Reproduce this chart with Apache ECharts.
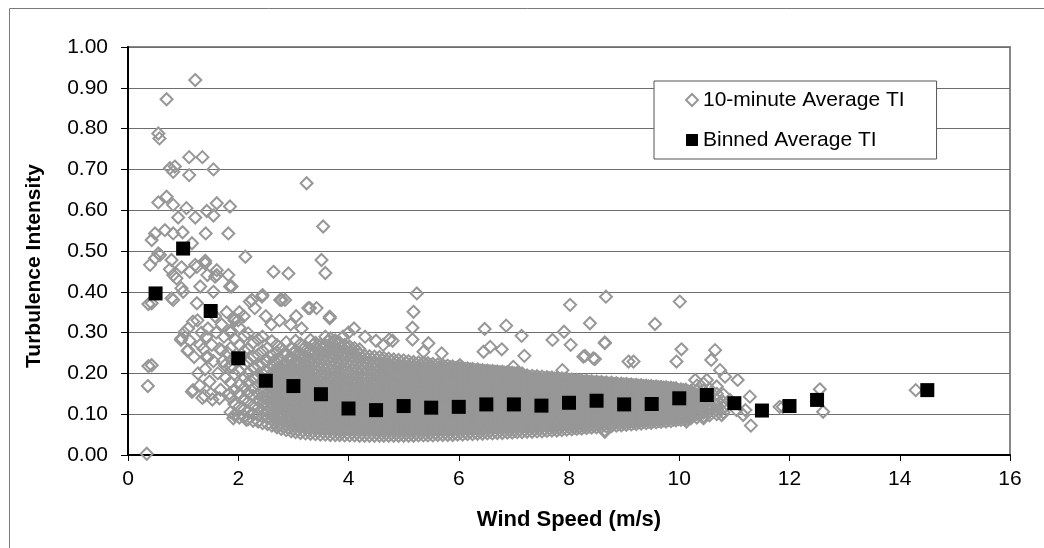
<!DOCTYPE html>
<html><head><meta charset="utf-8">
<script src="https://cdn.jsdelivr.net/npm/echarts@6/dist/echarts.min.js"></script>
<style>html,body{margin:0;padding:0;background:#fff}#c{width:1044px;height:548px}</style>
</head><body><div id="c"></div>
<script>
const xTicks = [0, 2, 4, 6, 8, 10, 12, 14, 16];
const yTicks = [0.00, 0.10, 0.20, 0.30, 0.40, 0.50, 0.60, 0.70, 0.80, 0.90, 1.00];

const binWind = [0.5, 1.0, 1.5, 2.0, 2.5, 3.0, 3.5, 4.0, 4.5, 5.0, 5.5, 6.0, 6.5, 7.0, 7.5, 8.0, 8.5, 9.0, 9.5, 10.0, 10.5, 11.0, 11.5, 12.0, 12.5, 14.5];
const binTI = [0.396, 0.506, 0.353, 0.237, 0.182, 0.169, 0.149, 0.114, 0.110, 0.120, 0.116, 0.118, 0.124, 0.124, 0.121, 0.128, 0.133, 0.124, 0.125, 0.139, 0.147, 0.127, 0.109, 0.120, 0.135, 0.159];

// sparse 10-minute points [wind speed, TI]
const sparsePts = [
[0.34,0.003],[0.36,0.169],[0.37,0.218],[0.37,0.37],[0.40,0.466],[0.43,0.527],[0.43,0.372],[0.43,0.22],[0.49,0.543],[0.49,0.482],[0.55,0.494],[0.55,0.619],[0.55,0.788],[0.57,0.776],[0.58,0.49],
[0.67,0.551],[0.70,0.633],[0.70,0.872],[0.76,0.703],[0.76,0.455],[0.79,0.478],[0.79,0.384],[0.82,0.694],[0.82,0.613],[0.82,0.543],[0.82,0.441],[0.82,0.38],[0.85,0.707],[0.88,0.433],[0.91,0.582],
[0.96,0.282],[0.97,0.409],[0.97,0.46],[0.97,0.286],[0.99,0.546],[1.00,0.40],[1.02,0.30],[1.06,0.605],[1.08,0.255],[1.09,0.31],[1.09,0.257],[1.11,0.73],[1.11,0.686],[1.12,0.449],[1.12,0.28],
[1.16,0.519],[1.16,0.155],[1.18,0.327],[1.18,0.159],[1.20,0.24],[1.22,0.919],[1.22,0.582],[1.22,0.466],[1.25,0.461],[1.25,0.372],[1.26,0.33],[1.27,0.20],[1.30,0.17],[1.31,0.413],[1.31,0.27],
[1.33,0.30],[1.35,0.73],[1.35,0.14],[1.37,0.26],[1.39,0.145],[1.40,0.476],[1.40,0.47],[1.40,0.21],[1.41,0.543],[1.42,0.29],[1.42,0.24],[1.43,0.598],[1.44,0.441],[1.45,0.31],[1.45,0.24],
[1.48,0.18],[1.50,0.15],[1.52,0.27],[1.53,0.136],[1.55,0.70],[1.55,0.587],[1.55,0.40],[1.55,0.23],[1.58,0.437],[1.58,0.34],[1.60,0.30],[1.61,0.617],[1.61,0.453],[1.61,0.441],[1.63,0.20],
[1.66,0.26],[1.66,0.139],[1.68,0.16],[1.70,0.32],[1.70,0.257],[1.72,0.23],[1.74,0.29],[1.76,0.22],[1.77,0.19],[1.79,0.35],[1.81,0.25],[1.82,0.543],[1.82,0.441],[1.84,0.15],[1.85,0.609],
[1.85,0.413],[1.86,0.30],[1.88,0.413],[1.88,0.22],[1.91,0.09],[1.92,0.335],[2.00,0.33],[2.02,0.35],[2.10,0.34],[2.13,0.486],[2.15,0.086],[2.21,0.376],[2.25,0.38],[2.30,0.36],[2.43,0.388],
[2.44,0.392],[2.50,0.34],[2.60,0.32],[2.64,0.449],[2.75,0.33],[2.76,0.38],[2.79,0.38],[2.85,0.38],[2.91,0.445],[2.95,0.32],[3.05,0.34],[3.15,0.31],[3.24,0.666],[3.27,0.36],[3.30,0.36],
[3.42,0.36],[3.51,0.478],[3.54,0.56],[3.58,0.446],[3.66,0.335],[3.66,0.339],[3.90,0.29],[4.00,0.30],[4.10,0.31],[4.30,0.29],[4.50,0.28],[4.63,0.27],[4.74,0.283],[4.80,0.28],
[5.16,0.312],[5.16,0.283],[5.18,0.351],[5.24,0.396],[5.36,0.253],[5.45,0.274],[5.69,0.249],[6.02,0.22],[6.45,0.253],[6.47,0.309],[6.57,0.265],[6.78,0.259],[6.86,0.317],[6.99,0.216],
[7.14,0.292],[7.19,0.243],[7.70,0.282],[7.88,0.208],[7.91,0.302],[8.02,0.368],[8.03,0.27],[8.26,0.241],[8.29,0.243],[8.38,0.323],[8.44,0.237],[8.47,0.235],[8.65,0.276],[8.65,0.274],
[8.65,0.057],[8.65,0.061],[8.67,0.388],[9.08,0.229],[9.17,0.229],[9.56,0.321],[9.95,0.229],[10.01,0.376],[10.04,0.259],[10.13,0.082],[10.29,0.184],[10.44,0.09],[10.50,0.184],[10.58,0.233],
[10.65,0.257],[10.74,0.208],[10.77,0.098],[10.83,0.192],[10.92,0.135],[11.04,0.11],[11.06,0.184],[11.16,0.098],[11.20,0.11],[11.28,0.143],[11.30,0.072],[11.82,0.118],[11.88,0.118],
[12.55,0.161],[12.61,0.106],[14.29,0.159]
];

// dense part of the 10-minute cloud: [wind speed, [TI values at that speed]]
const cloudCols = [
[1.86,[.105,.140,.178,.215,.262,.305]],
[1.93,[.098,.125,.160,.198,.240,.285,.330]],
[2.02,[.092,.118,.150,.172,.205,.236,.270,.312]],
[2.11,[.095,.112,.138,.165,.190,.222,.255,.292]],
[2.18,[.088,.106,.130,.152,.178,.201,.228,.260,.298]],
[2.27,[.084,.100,.121,.145,.163,.188,.214,.241,.275]],
[2.36,[.082,.097,.115,.134,.150,.171,.193,.219,.246,.283]],
[2.44,[.078,.093,.108,.126,.143,.160,.178,.199,.224,.255,.290]],
[2.53,[.076,.090,.104,.119,.135,.151,.168,.186,.205,.231,.262]],
[2.61,[.072,.086,.101,.115,.129,.146,.162,.180,.197,.218,.244,.279]],
[2.70,[.068,.082,.096,.110,.124,.139,.153,.170,.186,.203,.224,.252,.270]],
[2.78,[.064,.078,.092,.105,.119,.133,.148,.163,.178,.194,.212,.233,.262]],
[2.87,[.061,.074,.088,.101,.115,.129,.143,.157,.172,.188,.205,.224,.248,.276]],
[2.96,[.058,.071,.084,.097,.110,.124,.138,.152,.167,.182,.198,.216,.237,.262]],
[3.04,[.056,.069,.082,.095,.108,.121,.135,.149,.163,.178,.194,.211,.230,.256,.280]],
[3.13,[.054,.067,.080,.093,.106,.119,.133,.147,.161,.176,.191,.207,.225,.247,.272]],
[3.22,[.053,.066,.079,.092,.104,.117,.131,.144,.158,.172,.187,.203,.220,.240,.265]],
[3.31,[.052,.064,.077,.090,.102,.115,.128,.141,.155,.169,.183,.198,.215,.234,.258,.282]],
[3.40,[.051,.063,.076,.089,.101,.114,.127,.140,.154,.168,.182,.197,.213,.231,.252,.275]],
[3.49,[.050,.062,.075,.088,.100,.113,.126,.139,.152,.166,.180,.195,.211,.228,.248,.270]],
[3.58,[.050,.062,.074,.087,.099,.112,.125,.138,.151,.165,.179,.194,.209,.226,.245,.268,.290]],
[3.67,[.049,.061,.074,.086,.099,.111,.124,.137,.150,.164,.178,.192,.207,.224,.242,.263,.286]],
[3.76,[.049,.061,.073,.086,.098,.111,.123,.136,.149,.163,.177,.191,.206,.222,.240,.260,.281]],
[3.84,[.049,.061,.073,.085,.098,.110,.123,.136,.149,.162,.176,.190,.205,.221,.238,.257,.275]],
[3.93,[.048,.060,.072,.085,.097,.110,.122,.135,.148,.161,.175,.189,.204,.219,.236,.254,.270]],
[4.02,[.048,.060,.072,.084,.097,.109,.122,.134,.147,.160,.174,.188,.202,.218,.234,.251,.266]],
[4.11,[.048,.060,.072,.084,.096,.109,.121,.134,.147,.160,.173,.187,.201,.216,.232,.248,.262]],
[4.20,[.047,.059,.071,.084,.096,.108,.121,.133,.146,.159,.172,.186,.200,.215,.231,.246,.259]],
[4.29,[.047,.059,.071,.083,.096,.108,.120,.133,.146,.159,.172,.185,.199,.214,.229,.244]],
[4.38,[.047,.059,.071,.083,.095,.108,.120,.132,.145,.158,.171,.185,.199,.213,.228,.242]],
[4.47,[.047,.059,.071,.083,.095,.107,.120,.132,.145,.158,.171,.184,.198,.212,.227,.241]],
[4.56,[.047,.059,.070,.082,.095,.107,.119,.132,.144,.157,.170,.184,.197,.211,.226,.240]],
[4.64,[.047,.058,.070,.082,.094,.107,.119,.131,.144,.157,.170,.183,.197,.211,.225,.238]],
[4.73,[.047,.058,.070,.082,.094,.106,.119,.131,.144,.156,.169,.183,.196,.210,.224,.236]],
[4.82,[.047,.058,.070,.082,.094,.106,.118,.131,.143,.156,.169,.182,.196,.209,.223,.234]],
[4.91,[.047,.058,.070,.082,.094,.106,.118,.130,.143,.156,.169,.182,.195,.208,.222,.233]],
[5.00,[.047,.058,.070,.082,.093,.105,.118,.130,.142,.155,.168,.181,.194,.207,.220,.232]],
[5.09,[.047,.058,.070,.081,.093,.105,.117,.130,.142,.155,.168,.181,.194,.207,.219,.230]],
[5.18,[.047,.058,.070,.081,.093,.105,.117,.129,.142,.154,.167,.180,.193,.206,.218,.228]],
[5.27,[.048,.059,.070,.082,.093,.105,.117,.129,.141,.154,.167,.180,.193,.205,.217,.227]],
[5.36,[.048,.059,.070,.082,.093,.105,.117,.129,.141,.154,.166,.179,.192,.204,.216,.226]],
[5.44,[.048,.059,.071,.082,.094,.105,.117,.129,.141,.153,.166,.179,.191,.203,.215,.225]],
[5.53,[.048,.059,.071,.082,.094,.105,.117,.129,.141,.153,.166,.178,.190,.202,.214,.223]],
[5.62,[.049,.060,.071,.082,.094,.106,.117,.129,.141,.153,.165,.178,.190,.202,.213,.222]],
[5.71,[.049,.060,.071,.083,.094,.106,.117,.129,.141,.153,.165,.177,.189,.201,.212,.220]],
[5.80,[.049,.060,.071,.083,.094,.106,.118,.129,.141,.153,.165,.177,.189,.200,.211,.219]],
[5.89,[.049,.060,.072,.083,.095,.106,.118,.129,.141,.153,.165,.177,.188,.199,.210,.217]],
[5.98,[.050,.061,.072,.083,.095,.106,.118,.130,.141,.153,.165,.176,.188,.199,.209,.215]],
[6.07,[.050,.061,.072,.084,.095,.106,.118,.130,.141,.153,.164,.176,.187,.198,.208,.214]],
[6.16,[.051,.062,.073,.084,.095,.107,.118,.130,.141,.152,.164,.175,.186,.197,.207,.212]],
[6.25,[.051,.062,.073,.084,.096,.107,.118,.130,.141,.152,.164,.175,.186,.196,.206,.211]],
[6.34,[.052,.063,.074,.085,.096,.107,.118,.130,.141,.152,.163,.174,.185,.195,.205,.210]],
[6.43,[.052,.063,.074,.085,.096,.107,.119,.130,.141,.152,.163,.174,.184,.194,.204,.208]],
[6.52,[.053,.064,.075,.086,.097,.108,.119,.130,.141,.152,.163,.173,.184,.194,.203,.207]],
[6.61,[.053,.064,.075,.086,.097,.108,.119,.130,.141,.152,.162,.173,.183,.193,.202,.206]],
[6.70,[.054,.065,.076,.086,.097,.108,.119,.130,.141,.151,.162,.172,.183,.192,.201,.205]],
[6.79,[.054,.065,.076,.087,.098,.108,.119,.130,.141,.151,.162,.172,.182,.191,.200,.204]],
[6.88,[.055,.066,.076,.087,.098,.109,.119,.130,.141,.151,.161,.171,.181,.190,.199,.203]],
[6.97,[.055,.066,.077,.087,.098,.109,.119,.130,.140,.151,.161,.171,.181,.190,.198,.202]],
[7.06,[.056,.066,.077,.088,.098,.109,.120,.130,.140,.150,.161,.171,.180,.189,.197,.201]],
[7.15,[.056,.067,.077,.088,.099,.109,.120,.130,.140,.150,.160,.170,.180,.189,.196,.200]],
[7.24,[.057,.067,.078,.088,.099,.109,.120,.130,.140,.150,.160,.170,.179,.188,.195]],
[7.33,[.057,.068,.078,.089,.099,.110,.120,.130,.140,.150,.160,.169,.179,.187,.194]],
[7.42,[.058,.068,.079,.089,.100,.110,.120,.130,.140,.150,.160,.169,.178,.186,.193]],
[7.51,[.058,.069,.079,.089,.100,.110,.120,.130,.140,.150,.159,.168,.177,.185,.192]],
[7.60,[.059,.069,.080,.090,.100,.110,.120,.130,.140,.149,.159,.168,.177,.185,.191]],
[7.69,[.060,.070,.080,.090,.100,.110,.120,.130,.140,.149,.158,.167,.176,.184,.190]],
[7.78,[.060,.070,.080,.090,.100,.110,.120,.130,.139,.149,.158,.167,.176,.183,.189]],
[7.87,[.061,.071,.081,.091,.101,.111,.120,.130,.139,.149,.158,.166,.175,.182,.188]],
[7.96,[.062,.072,.082,.091,.101,.111,.120,.130,.139,.148,.157,.166,.174,.181,.187]],
[8.05,[.063,.072,.082,.092,.101,.111,.121,.130,.139,.148,.157,.165,.173,.180,.185]],
[8.14,[.064,.073,.083,.092,.102,.111,.121,.130,.139,.148,.156,.165,.173,.179,.184]],
[8.23,[.065,.074,.083,.093,.102,.112,.121,.130,.139,.148,.156,.164,.172,.178,.183]],
[8.32,[.066,.075,.084,.093,.103,.112,.121,.130,.139,.147,.156,.164,.171,.177,.182]],
[8.41,[.067,.076,.085,.094,.103,.112,.121,.130,.139,.147,.155,.163,.170,.176,.181]],
[8.50,[.068,.077,.086,.095,.104,.113,.122,.130,.138,.147,.155,.163,.170,.175,.180]],
[8.59,[.069,.078,.087,.095,.104,.113,.122,.130,.138,.147,.155,.162,.169,.174,.179]],
[8.68,[.070,.079,.088,.096,.105,.113,.122,.130,.138,.146,.154,.162,.168,.173,.178]],
[8.77,[.071,.080,.088,.097,.105,.114,.122,.130,.138,.146,.154,.161,.167,.172,.177]],
[8.86,[.072,.081,.089,.097,.106,.114,.122,.130,.138,.146,.153,.160,.166,.171,.176]],
[8.95,[.073,.082,.090,.098,.106,.114,.122,.130,.138,.146,.153,.160,.166,.171,.175]],
[9.04,[.074,.083,.091,.099,.107,.115,.123,.130,.138,.145,.152,.159,.165,.170,.174]],
[9.13,[.075,.084,.092,.100,.108,.115,.123,.131,.138,.145,.152,.159,.164,.169,.173]],
[9.22,[.076,.085,.093,.100,.108,.116,.123,.131,.138,.145,.152,.158,.164,.168,.172]],
[9.31,[.077,.085,.093,.101,.109,.116,.124,.131,.138,.145,.151,.158,.163,.167,.171]],
[9.40,[.078,.086,.094,.102,.109,.117,.124,.131,.138,.144,.151,.157,.163,.167,.170]],
[9.49,[.079,.087,.095,.102,.110,.117,.124,.131,.138,.144,.150,.157,.162,.166,.169]],
[9.58,[.080,.088,.096,.103,.110,.117,.124,.131,.137,.144,.150,.156,.161,.165,.168]],
[9.67,[.081,.089,.096,.104,.111,.118,.125,.131,.137,.144,.150,.156,.161,.164,.167]],
[9.76,[.082,.090,.097,.104,.111,.118,.125,.131,.137,.143,.149,.155,.160,.163,.166]],
[9.85,[.083,.091,.098,.105,.112,.118,.125,.131,.137,.143,.149,.155,.159,.162,.165]],
[9.94,[.085,.092,.099,.106,.112,.119,.125,.131,.137,.143,.148,.154,.158,.161,.164]],
[10.03,[.086,.093,.100,.106,.113,.119,.125,.132,.138,.143,.148,.154,.158,.161]],
[10.12,[.088,.095,.102,.108,.114,.120,.126,.132,.138,.143,.148,.153,.157,.160]],
[10.21,[.090,.097,.104,.110,.116,.122,.128,.134,.140,.146,.152,.157]],
[10.32,[.092,.100,.108,.116,.124,.132,.140,.148,.156,.170]],
[10.44,[.095,.104,.112,.120,.128,.136,.146,.158,.175]],
[10.55,[.097,.106,.116,.126,.136,.148,.162]],
[10.68,[.100,.110,.122,.134,.150,.168]],
[10.80,[.104,.116,.130,.148]]
];

// further 10-minute points lying between the columns above
const cloudColsB = [
[2.655,[.079,.093,.108,.122,.137,.154,.171,.188,.207,.231]],
[2.745,[.075,.089,.103,.117,.131,.146,.161,.178,.194,.213,.238]],
[2.825,[.071,.085,.098,.112,.126,.140,.155,.170,.186,.203,.222,.247]],
[2.915,[.067,.081,.094,.108,.122,.136,.150,.164,.180,.196,.214,.236]],
[3.005,[.064,.077,.090,.103,.117,.131,.145,.159,.174,.190,.207,.226,.249]],
[3.085,[.062,.075,.088,.101,.114,.128,.142,.156,.170,.186,.202,.220,.243]],
[3.175,[.060,.073,.086,.099,.112,.126,.140,.154,.168,.183,.199,.216,.236,.259]],
[3.265,[.059,.072,.085,.098,.110,.124,.137,.151,.165,.179,.195,.211,.230,.252]],
[3.355,[.058,.070,.083,.096,.108,.121,.134,.148,.162,.176,.190,.206,.224,.246,.270]],
[3.445,[.057,.069,.082,.095,.107,.120,.133,.147,.161,.175,.189,.205,.222,.240,.261]],
[3.535,[.056,.068,.081,.094,.106,.119,.132,.145,.159,.173,.187,.203,.219,.237,.259]],
[3.625,[.056,.068,.080,.093,.105,.118,.131,.144,.158,.172,.186,.201,.217,.235,.256,.278]],
[3.715,[.055,.067,.080,.092,.105,.117,.130,.143,.157,.171,.185,.199,.215,.233,.252,.273]],
[3.805,[.055,.067,.079,.092,.104,.117,.129,.142,.156,.170,.184,.198,.214,.231,.250,.270]],
[3.885,[.055,.067,.079,.091,.104,.116,.129,.142,.155,.169,.183,.197,.213,.229,.247,.265]],
[3.975,[.054,.066,.078,.091,.103,.116,.128,.141,.154,.168,.182,.196,.211,.227,.245,.262]],
[4.065,[.054,.066,.078,.090,.103,.115,.128,.140,.153,.167,.181,.195,.210,.226,.242,.258]],
[4.155,[.054,.066,.078,.090,.102,.115,.127,.140,.153,.166,.180,.194,.208,.224,.240,.254]],
[4.245,[.053,.065,.077,.090,.102,.114,.127,.139,.152,.165,.179,.193,.207,.222,.238]],
[4.335,[.053,.065,.077,.089,.102,.114,.126,.139,.152,.165,.178,.192,.206,.221,.236]],
[4.425,[.053,.065,.077,.089,.101,.114,.126,.138,.151,.164,.178,.191,.205,.220,.235]],
[4.515,[.053,.065,.077,.089,.101,.113,.126,.138,.151,.164,.177,.191,.205,.219,.234]],
[4.605,[.053,.064,.076,.088,.101,.113,.125,.138,.150,.163,.177,.190,.204,.218,.233]],
[4.685,[.052,.064,.076,.088,.100,.113,.125,.137,.150,.163,.176,.190,.204,.218,.231]],
[4.775,[.052,.064,.076,.088,.100,.112,.125,.137,.150,.162,.176,.189,.203,.217,.230]],
[4.865,[.052,.064,.076,.088,.100,.112,.124,.137,.149,.162,.175,.189,.202,.216,.228]],
[4.955,[.052,.064,.076,.088,.100,.112,.124,.136,.149,.162,.175,.188,.201,.215,.227]],
[5.045,[.052,.064,.076,.087,.099,.111,.124,.136,.148,.161,.174,.187,.200,.213,.226]],
[5.135,[.052,.064,.075,.087,.099,.111,.123,.136,.148,.161,.174,.187,.200,.213,.224]],
[5.225,[.052,.064,.075,.087,.099,.111,.123,.135,.148,.160,.173,.186,.199,.212,.223]],
[5.315,[.053,.064,.076,.087,.099,.111,.123,.135,.147,.160,.173,.186,.199,.211,.222]],
[5.405,[.053,.064,.076,.087,.099,.111,.123,.135,.147,.160,.172,.185,.198,.210,.221]],
[5.485,[.053,.065,.076,.088,.099,.111,.123,.135,.147,.159,.172,.185,.197,.209,.220]],
[5.575,[.053,.065,.076,.088,.099,.111,.123,.135,.147,.159,.172,.184,.196,.208,.218]],
[5.665,[.054,.065,.076,.088,.100,.111,.123,.135,.147,.159,.171,.184,.196,.207,.217]],
[5.755,[.054,.065,.077,.088,.100,.111,.123,.135,.147,.159,.171,.183,.195,.206,.216]],
[5.845,[.054,.065,.077,.088,.100,.112,.123,.135,.147,.159,.171,.183,.194,.205,.215]],
[5.935,[.054,.066,.077,.089,.100,.112,.123,.135,.147,.159,.171,.182,.193,.204,.213]],
[6.025,[.055,.066,.077,.089,.100,.112,.124,.135,.147,.159,.170,.182,.193,.204,.212]],
[6.115,[.055,.066,.078,.089,.100,.112,.124,.135,.147,.158,.170,.181,.192,.203,.211]],
[6.205,[.056,.067,.078,.089,.101,.112,.124,.135,.146,.158,.169,.180,.191,.202,.210]],
[6.295,[.056,.067,.078,.090,.101,.112,.124,.135,.146,.158,.169,.180,.191,.201,.208]],
[6.385,[.057,.068,.079,.090,.101,.112,.124,.135,.146,.157,.168,.179,.190,.200,.207]],
[6.475,[.057,.068,.079,.090,.101,.113,.124,.135,.146,.157,.168,.179,.189,.199,.206]],
[6.565,[.058,.069,.080,.091,.102,.113,.124,.135,.146,.157,.168,.178,.188,.198,.205]],
[6.655,[.058,.069,.080,.091,.102,.113,.124,.135,.146,.157,.167,.178,.188,.197,.204]],
[6.745,[.059,.070,.081,.091,.102,.113,.124,.135,.146,.156,.167,.177,.187,.196,.203]],
[6.835,[.059,.070,.081,.092,.103,.113,.124,.135,.146,.156,.167,.177,.186,.195,.202]],
[6.925,[.060,.071,.081,.092,.103,.114,.124,.135,.146,.156,.166,.176,.185,.194,.201]],
[7.015,[.060,.071,.082,.092,.103,.114,.124,.135,.145,.156,.166,.176,.185,.194,.200]],
[7.105,[.061,.071,.082,.093,.103,.114,.125,.135,.145,.155,.166,.175,.184,.193,.199]],
[7.195,[.061,.072,.082,.093,.104,.114,.125,.135,.145,.155,.165,.175,.184,.192]],
[7.285,[.062,.072,.083,.093,.104,.114,.125,.135,.145,.155,.165,.174,.183,.191]],
[7.375,[.062,.073,.083,.094,.104,.115,.125,.135,.145,.155,.164,.174,.183,.190]],
[7.465,[.063,.073,.084,.094,.105,.115,.125,.135,.145,.155,.164,.173,.182,.189]],
[7.555,[.063,.074,.084,.094,.105,.115,.125,.135,.145,.154,.163,.172,.181,.188]],
[7.645,[.064,.074,.085,.095,.105,.115,.125,.135,.144,.154,.163,.172,.181,.188]],
[7.735,[.065,.075,.085,.095,.105,.115,.125,.135,.144,.153,.162,.171,.180,.187]],
[7.825,[.065,.075,.085,.095,.105,.115,.125,.134,.144,.153,.162,.171,.179,.186]],
[7.915,[.066,.076,.086,.096,.106,.115,.125,.134,.144,.153,.162,.170,.178,.185]],
[8.005,[.067,.077,.086,.096,.106,.115,.125,.134,.143,.152,.161,.170,.177,.184]],
[8.095,[.067,.077,.087,.096,.106,.116,.125,.134,.143,.152,.161,.169,.176,.182]],
[8.185,[.068,.078,.087,.097,.106,.116,.125,.134,.143,.152,.160,.169,.176,.181]],
[8.275,[.069,.078,.088,.097,.107,.116,.125,.134,.143,.152,.160,.168,.175,.180]],
[8.365,[.070,.079,.088,.098,.107,.116,.125,.134,.143,.151,.160,.167,.174,.179]],
[8.455,[.071,.080,.089,.098,.107,.116,.125,.134,.143,.151,.159,.166,.173,.178]],
[8.545,[.072,.081,.090,.099,.108,.117,.126,.134,.142,.151,.159,.166,.172,.177]],
[8.635,[.073,.082,.091,.099,.108,.117,.126,.134,.142,.150,.158,.165,.171,.176]],
[8.725,[.074,.083,.092,.100,.109,.117,.126,.134,.142,.150,.158,.164,.170,.175]],
[8.815,[.075,.084,.092,.101,.109,.118,.126,.134,.142,.150,.157,.163,.169,.174]],
[8.905,[.076,.085,.093,.101,.110,.118,.126,.134,.142,.149,.156,.163,.168,.173]],
[8.995,[.077,.086,.094,.102,.110,.118,.126,.134,.142,.149,.156,.163,.168,.173]],
[9.085,[.078,.087,.095,.103,.111,.119,.126,.134,.141,.148,.155,.162,.167,.172]],
[9.175,[.079,.088,.096,.104,.111,.119,.127,.134,.141,.148,.155,.161,.166,.171]],
[9.265,[.080,.089,.097,.104,.112,.119,.127,.134,.141,.148,.155,.161,.166,.170]],
[9.355,[.081,.089,.097,.105,.112,.120,.127,.134,.141,.148,.154,.160,.165,.169]],
[9.445,[.082,.090,.098,.105,.113,.120,.127,.134,.141,.147,.154,.160,.165,.168]],
[9.535,[.083,.091,.098,.106,.113,.120,.127,.134,.140,.147,.153,.159,.164,.167]],
[9.625,[.084,.092,.099,.106,.113,.120,.127,.134,.140,.147,.153,.158,.163,.166]],
[9.715,[.085,.093,.100,.107,.114,.121,.128,.134,.140,.146,.152,.158,.162,.165]],
[9.805,[.086,.093,.100,.108,.114,.121,.128,.134,.140,.146,.152,.157,.161,.164]],
[9.895,[.087,.094,.101,.108,.115,.121,.128,.134,.140,.146,.151,.156,.160,.163]],
[9.985,[.088,.095,.102,.109,.115,.122,.128,.134,.140,.145,.151,.156,.159]],
[10.075,[.089,.096,.103,.110,.116,.122,.128,.135,.140,.145,.151,.155,.159]],
[10.165,[.091,.098,.105,.111,.117,.123,.129,.135,.141,.146,.151,.155]]
];

const tenMinPts = sparsePts.slice();
cloudCols.concat(cloudColsB).forEach(function (col) {
  col[1].forEach(function (ti) { tenMinPts.push([col[0], ti]); });
});
const binPts = binWind.map(function (w, i) { return [w, binTI[i]]; });

const FONT = "'Liberation Sans', Arial, sans-serif";
const chart = echarts.init(document.getElementById('c'), null, {renderer: 'canvas'});
chart.setOption({
  animation: false,
  backgroundColor: '#fff',
  graphic: [{
    type: 'rect', left: 7, top: 6, z: -10, silent: true,
    shape: {width: 1060, height: 560},
    style: {fill: 'none', stroke: '#7a7a7a', lineWidth: 1}
  }],
  grid: {left: 128, top: 47, right: 34, bottom: 93, show: true, borderColor: '#888', borderWidth: 2, backgroundColor: '#fff'},
  legend: {
    orient: 'vertical', left: 654, top: 81,
    padding: [8, 32, 8, 31], itemGap: 18, itemWidth: 12, itemHeight: 12,
    borderColor: '#555', borderWidth: 1, backgroundColor: '#fff',
    textStyle: {fontSize: 21, fontFamily: FONT, color: '#000', lineHeight: 22},
    data: ['10-minute Average TI', 'Binned Average TI']
  },
  xAxis: {
    type: 'value', min: xTicks[0], max: xTicks[xTicks.length - 1], interval: xTicks[1] - xTicks[0],
    name: 'Wind Speed (m/s)', nameLocation: 'middle', nameGap: 54,
    nameTextStyle: {fontSize: 22, fontWeight: 'bold', fontFamily: FONT, color: '#000'},
    axisLine: {show: true, onZero: false, lineStyle: {color: '#000', width: 2}},
    axisTick: {show: true, inside: false, length: 6, lineStyle: {color: '#000', width: 1}},
    axisLabel: {fontSize: 21, fontFamily: FONT, color: '#000', margin: 14},
    splitLine: {show: false}
  },
  yAxis: {
    type: 'value', min: yTicks[0], max: yTicks[yTicks.length - 1], interval: 0.1,
    name: 'Turbulence Intensity', nameLocation: 'middle', nameGap: 83,
    nameTextStyle: {fontSize: 21, fontWeight: 'bold', fontFamily: FONT, color: '#000', padding: [0, 30, 0, 0]},
    axisLine: {show: true, onZero: false, lineStyle: {color: '#000', width: 2}},
    axisTick: {show: true, inside: false, length: 7, lineStyle: {color: '#000', width: 1}},
    axisLabel: {fontSize: 21, fontFamily: FONT, color: '#000', margin: 20, formatter: function (v) { return v.toFixed(2); }},
    splitLine: {show: true, lineStyle: {color: '#6e6e6e', width: 1}}
  },
  series: [{
    name: '10-minute Average TI', type: 'scatter', data: tenMinPts,
    symbol: 'diamond', symbolSize: 12, z: 2, large: false, progressive: 0,
    itemStyle: {color: 'rgba(255,255,255,0)', borderColor: '#979797', borderWidth: 2, opacity: 1},
    emphasis: {disabled: true}
  }, {
    name: 'Binned Average TI', type: 'scatter', data: binPts,
    symbol: 'rect', symbolSize: 14, z: 3,
    itemStyle: {color: '#000', borderWidth: 0, opacity: 1},
    emphasis: {disabled: true}
  }]
});
</script>
</body></html>
